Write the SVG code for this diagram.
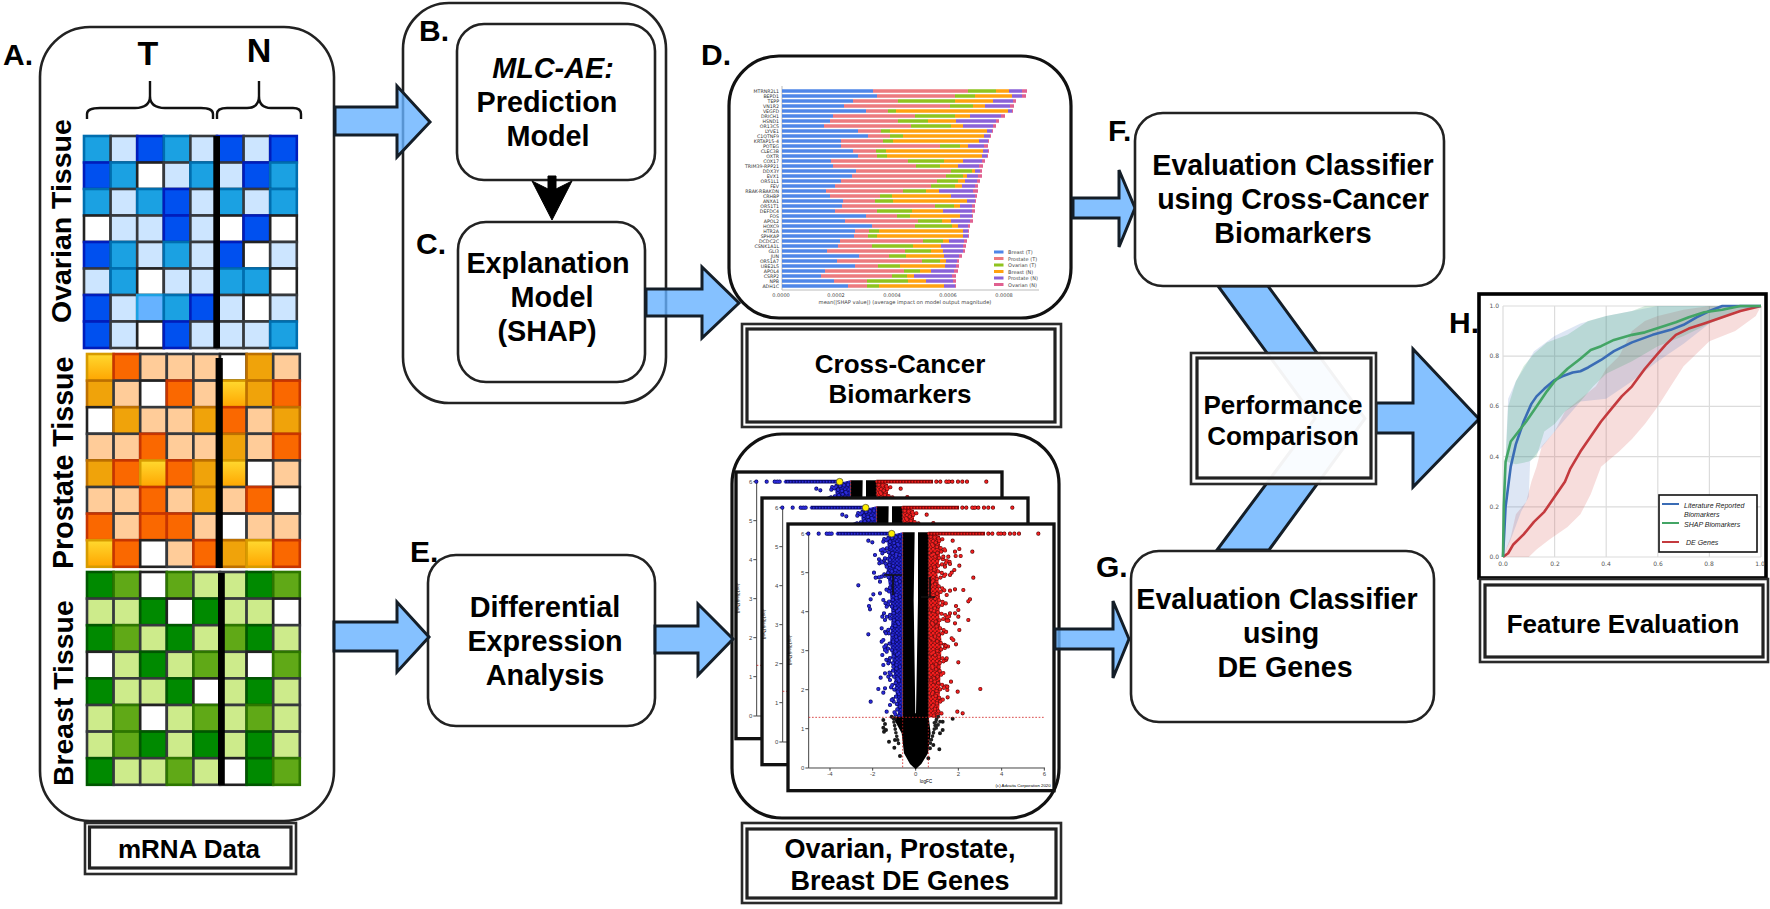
<svg xmlns="http://www.w3.org/2000/svg" xmlns:xlink="http://www.w3.org/1999/xlink" width="1770" height="909" viewBox="0 0 1770 909">
<style>
text{font-family:"Liberation Sans",Arial,sans-serif;fill:#000}
.t{font-weight:700;font-size:28.8px;text-anchor:middle}
.s{font-weight:700;font-size:26px;text-anchor:middle}
.e{font-weight:700;font-size:28.6px;text-anchor:middle}
.l{font-weight:700;font-size:30px}
.box{fill:#fff;stroke:#222;stroke-width:2.6}
.big{fill:#fff;stroke:#111;stroke-width:3.2}
.o{fill:#fff;stroke:#2a2a2a;stroke-width:2.6}
.i{fill:none;stroke:#222;stroke-width:3.2}
.arrow{fill:#66b2ff;fill-opacity:.8;stroke:#141e28;stroke-width:3;stroke-linejoin:miter}
.heat rect{stroke-width:2.6}
.ov rect{width:26.6px;height:26.5px}
.pr rect,.br rect{width:26.6px;height:26.6px}
.D{fill:#0050ef;stroke:#001dbc}.M{fill:#1ba1e2;stroke:#006eaf}.L{fill:#cce5ff;stroke:#36393d}.S{fill:#66b2ff;stroke:#1ba1e2}
.W{fill:#fff;stroke:#222}
.Y{fill:url(#gold);stroke:#d79b00}.A{fill:#f0a30a;stroke:#bd7000}.O{fill:#fa6800;stroke:#c73500}.P{fill:#ffcc99;stroke:#36393d}
.G{fill:#008a00;stroke:#005700}.N{fill:#60a917;stroke:#2d7600}.C{fill:#cdeb8b;stroke:#36393d}
.bar{fill:none;stroke-width:3.6}
.gn{font-family:"DejaVu Sans",sans-serif;font-size:4.7px;text-anchor:end;fill:#333}
.tk{font-family:"DejaVu Sans",sans-serif;font-size:5px;fill:#444}
.vt{font-size:18px;fill:#444;text-anchor:middle}
.dot{fill:none;stroke-linecap:round}
.cv{fill:none;stroke-width:2.6;vector-effect:non-scaling-stroke;stroke-linejoin:round}
.gl{font-family:"DejaVu Sans",sans-serif;font-size:6px;fill:#555}
.lg{font-style:italic;font-size:7px;fill:#222}
</style>
<defs>
<linearGradient id="gold" x1="0" y1="0" x2="0" y2="1"><stop offset="0" stop-color="#ffd92f"/><stop offset="1" stop-color="#ffa500"/></linearGradient>
<pattern id="pb" width="11" height="11" patternUnits="userSpaceOnUse"><rect width="11" height="11" fill="#0a0a70"/><circle cx="3" cy="3" r="3.6" fill="#2a2ad8"/><circle cx="8.500" cy="8.500" r="3.6" fill="#1e20c8"/></pattern>
<pattern id="pr" width="12" height="12" patternUnits="userSpaceOnUse"><rect width="12" height="12" fill="#801010"/><circle cx="3" cy="3" r="4.3" fill="#f42020"/><circle cx="9" cy="9" r="4.3" fill="#ee1818"/></pattern>
<path id="ob" d="M445 122h0M457 127h0M490 125h0M465 165h0M477 178h0M478 190h0M462 218h0M467 233h0M477 232h0M485 230h0M415 256h0M460 283h0M452 298h0M447 318h0M450 328h0M480 280h0M490 300h0M487 350h0M492 340h0M445 403h0M485 385h0M490 420h0M485 425h0M487 465h0M495 450h0M490 495h0M505 490h0M482 533h0M475 567h0M490 578h0M495 565h0M452 605h0M500 635h0M510 615h0M515 600h0M495 520h0M505 530h0M520 500h0M510 540h0M500 455h0M498 400h0M495 360h0M500 320h0M480 245h0M487 160h0M500 200h0M510 180h0M495 175h0M265 101h0M296 101h0M320 101h0M328 101h0M335 101h0"/>
<path id="or" d="M698 122h0M718 147h0M705 155h0M707 168h0M722 168h0M757 155h0M670 170h0M685 170h0M690 192h0M703 210h0M718 197h0M675 200h0M695 218h0M690 225h0M760 233h0M705 268h0M730 270h0M690 272h0M680 285h0M750 298h0M745 304h0M708 318h0M715 330h0M705 340h0M690 340h0M715 350h0M745 360h0M705 370h0M680 362h0M685 362h0M718 390h0M695 415h0M700 420h0M708 433h0M677 437h0M680 475h0M715 487h0M693 545h0M682 560h0M682 570h0M713 575h0M781 567h0M683 592h0M712 635h0M728 640h0M805 101h0M817 101h0M835 101h0M843 101h0M853 101h0M870 101h0M883 101h0M897 101h0M955 101h0"/>
<path id="zb" d="M540 110L490 118L540 135L480 150L540 165L478 185L540 205L488 225L540 245L498 270L540 290L495 310L540 330L500 350L540 370L495 395L540 415L490 440L540 460L498 480L540 500L505 520L540 540L510 560L540 580L515 600L540 620L520 640L540 650"/>
<path id="zr" d="M632 110L668 118L632 135L680 150L632 165L690 185L632 205L680 225L632 245L675 270L632 290L678 310L632 330L690 350L632 370L680 395L632 415L685 440L632 460L680 480L632 500L672 520L632 540L680 560L632 580L670 600L632 620L665 640L632 650"/>
<g id="vol">
<rect x="204" y="72" width="798" height="800" fill="#fff" stroke="#111" stroke-width="10"/>
<path d="M266 101V804H975M256 101h10M256 218h10M256 335h10M256 452h10M256 569h10M256 686h10M256 804h10M330 804v8M458 804v8M587 804v8M715 804v8M845 804v8M973 804v8" fill="none" stroke="#444" stroke-width="3"/>
<text class="vt" x="248" y="107">6</text><text class="vt" x="248" y="224">5</text><text class="vt" x="248" y="341">4</text><text class="vt" x="248" y="458">3</text><text class="vt" x="248" y="575">2</text><text class="vt" x="248" y="692">1</text><text class="vt" x="248" y="810">0</text>
<text class="vt" x="330" y="829">-4</text><text class="vt" x="458" y="829">-2</text><text class="vt" x="587" y="829">0</text><text class="vt" x="715" y="829">2</text><text class="vt" x="845" y="829">4</text><text class="vt" x="973" y="829">6</text>
<text x="618" y="850" font-size="14" text-anchor="middle" fill="#333">logFC</text>
<text transform="translate(208,450) rotate(90)" font-size="13" text-anchor="middle" fill="#333">-log10(adj.Pval)</text>
<text x="992" y="862" font-size="13" text-anchor="end" fill="#222">(c) Advaita Corporation 2020</text>
<path d="M548 97L500 108L505 160L500 210L510 280L515 350L510 430L520 500L525 560L532 620L535 652L548 652Z" fill="url(#pb)"/>
<path d="M625 97L660 108L660 170L652 220L660 280L658 350L665 430L662 500L660 570L658 620L655 652L625 652Z" fill="url(#pr)"/>
<use href="#zb" class="dot" stroke="#0a0a60" stroke-width="12.500" stroke-dasharray="0 12"/>
<use href="#zb" class="dot" stroke="#2a2ad8" stroke-width="8.500" stroke-dasharray="0 12"/>
<use href="#zr" class="dot" stroke="#701010" stroke-width="12.500" stroke-dasharray="0 12"/>
<use href="#zr" class="dot" stroke="#f42020" stroke-width="8.500" stroke-dasharray="0 12"/>
<path d="M548 97H584L581 300L586 640H588L594 300L594 97H626V650L632 700L624 760L604 792L587 808L570 792L552 760L545 700L518 650H548Z" fill="#000"/>
<path class="dot" d="M520 655L528 700L538 740M650 655L640 700L628 740M660 665L645 690M655 650L642 670" stroke="#222" stroke-width="11" stroke-dasharray="0 11"/>
<use href="#ob" class="dot" stroke="#0a0a60" stroke-width="12.500"/>
<use href="#ob" class="dot" stroke="#2a2ad8" stroke-width="8.500"/>
<path d="M350 101H510" stroke="#0a0a70" stroke-width="11" fill="none"/>
<path class="dot" d="M350 101H510" stroke="#2a2ad8" stroke-width="6" stroke-dasharray="0 9"/>
<use href="#or" class="dot" stroke="#5a0808" stroke-width="12.500"/>
<use href="#or" class="dot" stroke="#f42020" stroke-width="8.500"/>
<path d="M625 101H795" stroke="#7a0808" stroke-width="11" fill="none"/>
<path class="dot" d="M625 101H795" stroke="#f01818" stroke-width="6" stroke-dasharray="0 9"/>
<path class="dot" d="M490 660h0M495 672h0M490 683h0M492 695h0M498 690h0M507 725h0M525 720h0M523 743h0M540 768h0M658 748h0M668 665h0M668 690h0M660 700h0M640 735h0M630 745h0M625 775h0M698 656h0M515 650h0M525 655h0" stroke="#1a1a1a" stroke-width="12"/>
<path d="M266 652H975M548 97V804M625 97V804" fill="none" stroke="#d02020" stroke-width="2.4" stroke-dasharray="5 5"/>
<circle cx="515" cy="101" r="10" fill="#ffee00" stroke="#333" stroke-width="2"/>
</g>
</defs>
<rect width="1770" height="909" fill="#fff"/>

<g id="nodeA">
<rect class="box" x="40" y="27" width="294" height="794" rx="50" ry="50"/>
<text class="l" x="3" y="65">A.</text>
<text x="148" y="65" font-weight="700" font-size="34" text-anchor="middle">T</text>
<text x="259" y="62" font-weight="700" font-size="34" text-anchor="middle">N</text>
<path d="M87 119V114Q87 108 100 108H135Q150 108 150 96V81M150 96Q150 108 165 108H201Q213 108 213 114V119M217 119V114Q217 108 227 108H247Q259 108 259 96V81M259 96Q259 108 271 108H293Q301 108 301 114V119" fill="none" stroke="#111" stroke-width="2.4"/>
<text transform="translate(71,323) rotate(-90)" font-weight="700" font-size="28.5">Ovarian Tissue</text>
<text transform="translate(73,569) rotate(-90)" font-weight="700" font-size="28.6">Prostate Tissue</text>
<text transform="translate(73,786) rotate(-90)" font-weight="700" font-size="28.4">Breast Tissue</text>
<g class="heat ov">
<rect class="M" x="84" y="136"/><rect class="L" x="110.6" y="136"/><rect class="D" x="137.2" y="136"/><rect class="M" x="163.8" y="136"/><rect class="L" x="190.4" y="136"/><rect class="D" x="217" y="136"/><rect class="L" x="243.6" y="136"/><rect class="D" x="270.2" y="136"/>
<rect class="D" x="84" y="162.5"/><rect class="M" x="110.6" y="162.5"/><rect class="W" x="137.2" y="162.5"/><rect class="L" x="163.8" y="162.5"/><rect class="M" x="190.4" y="162.5"/><rect class="L" x="217" y="162.5"/><rect class="D" x="243.6" y="162.5"/><rect class="M" x="270.2" y="162.5"/>
<rect class="M" x="84" y="189"/><rect class="L" x="110.6" y="189"/><rect class="M" x="137.2" y="189"/><rect class="D" x="163.8" y="189"/><rect class="L" x="190.4" y="189"/><rect class="M" x="217" y="189"/><rect class="L" x="243.6" y="189"/><rect class="M" x="270.2" y="189"/>
<rect class="W" x="84" y="215.5"/><rect class="L" x="110.6" y="215.5"/><rect class="L" x="137.2" y="215.5"/><rect class="D" x="163.8" y="215.5"/><rect class="L" x="190.4" y="215.5"/><rect class="W" x="217" y="215.5"/><rect class="D" x="243.6" y="215.5"/><rect class="W" x="270.2" y="215.5"/>
<rect class="D" x="84" y="242"/><rect class="M" x="110.6" y="242"/><rect class="L" x="137.2" y="242"/><rect class="M" x="163.8" y="242"/><rect class="L" x="190.4" y="242"/><rect class="D" x="217" y="242"/><rect class="W" x="243.6" y="242"/><rect class="L" x="270.2" y="242"/>
<rect class="L" x="84" y="268.5"/><rect class="M" x="110.6" y="268.5"/><rect class="W" x="137.2" y="268.5"/><rect class="L" x="163.8" y="268.5"/><rect class="L" x="190.4" y="268.5"/><rect class="M" x="217" y="268.5"/><rect class="M" x="243.6" y="268.5"/><rect class="W" x="270.2" y="268.5"/>
<rect class="D" x="84" y="295"/><rect class="L" x="110.6" y="295"/><rect class="S" x="137.2" y="295"/><rect class="M" x="163.8" y="295"/><rect class="D" x="190.4" y="295"/><rect class="L" x="217" y="295"/><rect class="W" x="243.6" y="295"/><rect class="L" x="270.2" y="295"/>
<rect class="D" x="84" y="321.5"/><rect class="L" x="110.6" y="321.5"/><rect class="W" x="137.2" y="321.5"/><rect class="D" x="163.8" y="321.5"/><rect class="L" x="190.4" y="321.5"/><rect class="L" x="217" y="321.5"/><rect class="L" x="243.6" y="321.5"/><rect class="M" x="270.2" y="321.5"/>
</g>
<rect x="213.3" y="136" width="6.7" height="212" fill="#000"/>
<g class="heat pr">
<rect class="Y" x="87" y="354"/><rect class="O" x="113.6" y="354"/><rect class="P" x="140.2" y="354"/><rect class="P" x="166.8" y="354"/><rect class="P" x="193.4" y="354"/><rect class="W" x="220" y="354"/><rect class="A" x="246.6" y="354"/><rect class="P" x="273.2" y="354"/>
<rect class="A" x="87" y="380.6"/><rect class="P" x="113.6" y="380.6"/><rect class="W" x="140.2" y="380.6"/><rect class="O" x="166.8" y="380.6"/><rect class="P" x="193.4" y="380.6"/><rect class="Y" x="220" y="380.6"/><rect class="A" x="246.6" y="380.6"/><rect class="O" x="273.2" y="380.6"/>
<rect class="W" x="87" y="407.2"/><rect class="A" x="113.6" y="407.2"/><rect class="P" x="140.2" y="407.2"/><rect class="P" x="166.8" y="407.2"/><rect class="A" x="193.4" y="407.2"/><rect class="O" x="220" y="407.2"/><rect class="P" x="246.6" y="407.2"/><rect class="A" x="273.2" y="407.2"/>
<rect class="P" x="87" y="433.8"/><rect class="P" x="113.6" y="433.8"/><rect class="O" x="140.2" y="433.8"/><rect class="P" x="166.8" y="433.8"/><rect class="P" x="193.4" y="433.8"/><rect class="A" x="220" y="433.8"/><rect class="P" x="246.6" y="433.8"/><rect class="O" x="273.2" y="433.8"/>
<rect class="A" x="87" y="460.4"/><rect class="O" x="113.6" y="460.4"/><rect class="Y" x="140.2" y="460.4"/><rect class="O" x="166.8" y="460.4"/><rect class="A" x="193.4" y="460.4"/><rect class="Y" x="220" y="460.4"/><rect class="W" x="246.6" y="460.4"/><rect class="P" x="273.2" y="460.4"/>
<rect class="P" x="87" y="487"/><rect class="P" x="113.6" y="487"/><rect class="O" x="140.2" y="487"/><rect class="P" x="166.8" y="487"/><rect class="A" x="193.4" y="487"/><rect class="P" x="220" y="487"/><rect class="O" x="246.6" y="487"/><rect class="W" x="273.2" y="487"/>
<rect class="O" x="87" y="513.6"/><rect class="P" x="113.6" y="513.6"/><rect class="O" x="140.2" y="513.6"/><rect class="O" x="166.8" y="513.6"/><rect class="P" x="193.4" y="513.6"/><rect class="W" x="220" y="513.6"/><rect class="P" x="246.6" y="513.6"/><rect class="P" x="273.2" y="513.6"/>
<rect class="Y" x="87" y="540.2"/><rect class="O" x="113.6" y="540.2"/><rect class="W" x="140.2" y="540.2"/><rect class="P" x="166.8" y="540.2"/><rect class="O" x="193.4" y="540.2"/><rect class="A" x="220" y="540.2"/><rect class="Y" x="246.6" y="540.2"/><rect class="O" x="273.2" y="540.2"/>
</g>
<rect x="215.6" y="358" width="7.2" height="210" fill="#000"/>
<g class="heat br">
<rect class="G" x="87" y="572"/><rect class="N" x="113.6" y="572"/><rect class="W" x="140.2" y="572"/><rect class="N" x="166.8" y="572"/><rect class="C" x="193.4" y="572"/><rect class="C" x="220" y="572"/><rect class="G" x="246.6" y="572"/><rect class="N" x="273.2" y="572"/>
<rect class="C" x="87" y="598.6"/><rect class="C" x="113.6" y="598.6"/><rect class="G" x="140.2" y="598.6"/><rect class="W" x="166.8" y="598.6"/><rect class="G" x="193.4" y="598.6"/><rect class="C" x="220" y="598.6"/><rect class="C" x="246.6" y="598.6"/><rect class="W" x="273.2" y="598.6"/>
<rect class="G" x="87" y="625.2"/><rect class="N" x="113.6" y="625.2"/><rect class="C" x="140.2" y="625.2"/><rect class="G" x="166.8" y="625.2"/><rect class="C" x="193.4" y="625.2"/><rect class="N" x="220" y="625.2"/><rect class="G" x="246.6" y="625.2"/><rect class="C" x="273.2" y="625.2"/>
<rect class="W" x="87" y="651.8"/><rect class="C" x="113.6" y="651.8"/><rect class="G" x="140.2" y="651.8"/><rect class="C" x="166.8" y="651.8"/><rect class="N" x="193.4" y="651.8"/><rect class="C" x="220" y="651.8"/><rect class="W" x="246.6" y="651.8"/><rect class="N" x="273.2" y="651.8"/>
<rect class="G" x="87" y="678.4"/><rect class="C" x="113.6" y="678.4"/><rect class="C" x="140.2" y="678.4"/><rect class="G" x="166.8" y="678.4"/><rect class="W" x="193.4" y="678.4"/><rect class="C" x="220" y="678.4"/><rect class="G" x="246.6" y="678.4"/><rect class="C" x="273.2" y="678.4"/>
<rect class="C" x="87" y="705"/><rect class="N" x="113.6" y="705"/><rect class="W" x="140.2" y="705"/><rect class="C" x="166.8" y="705"/><rect class="N" x="193.4" y="705"/><rect class="C" x="220" y="705"/><rect class="N" x="246.6" y="705"/><rect class="C" x="273.2" y="705"/>
<rect class="C" x="87" y="731.6"/><rect class="N" x="113.6" y="731.6"/><rect class="G" x="140.2" y="731.6"/><rect class="C" x="166.8" y="731.6"/><rect class="G" x="193.4" y="731.6"/><rect class="C" x="220" y="731.6"/><rect class="G" x="246.6" y="731.6"/><rect class="C" x="273.2" y="731.6"/>
<rect class="G" x="87" y="758.2"/><rect class="C" x="113.6" y="758.2"/><rect class="C" x="140.2" y="758.2"/><rect class="N" x="166.8" y="758.2"/><rect class="C" x="193.4" y="758.2"/><rect class="W" x="220" y="758.2"/><rect class="G" x="246.6" y="758.2"/><rect class="N" x="273.2" y="758.2"/>
</g>
<rect x="218" y="573" width="6.8" height="212" fill="#000"/>
</g>
<g id="mrnaLabel">
<rect class="o" x="85" y="823" width="211" height="51"/><rect class="i" x="89.5" y="827" width="201.5" height="41"/>
<text class="s" x="189" y="858">mRNA Data</text>
</g>

<g id="nodeB">
<rect class="box" x="403" y="3" width="263" height="400" rx="46" ry="46"/>
<text class="l" x="419" y="41">B.</text>
<rect class="box" x="457" y="24" width="198" height="156" rx="27"/>
<text class="t" x="553" y="78" font-style="italic">MLC-AE:</text>
<text class="t" x="547" y="112">Prediction</text>
<text class="t" x="548" y="146">Model</text>
</g>
<g id="nodeC">
<rect class="box" x="458" y="222" width="187" height="160" rx="28"/>
<text class="l" x="416" y="254">C.</text>
<text class="t" x="548" y="273">Explanation</text>
<text class="t" x="552" y="307">Model</text>
<text class="t" x="547" y="341">(SHAP)</text>
</g>

<g id="nodeD">
<rect class="big" x="729" y="56" width="342" height="262" rx="50"/>
<text class="l" x="701" y="65">D.</text>
<path d="M782 86V290H1039" fill="none" stroke="#bbb" stroke-width="1"/>
<path class="bar" stroke="#4f86e8" d="M782 91H873M782 96H877M782 101H853M782 106H844M782 111H866M782 116H833M782 121H830M782 126H824M782 131H858M782 136H868M782 141H841M782 146H841M782 151H853M782 156H858M782 161H831M782 166H833M782 171H856M782 176H852M782 181H841M782 186H835M782 191H826M782 196H830M782 201H843M782 206H842M782 211H835M782 216H866M782 221H845M782 226H872M782 231H855M782 236H854M782 241H840M782 246H838M782 251H827M782 256H859M782 261H837M782 266H855M782 271H825M782 276H821M782 281H834M782 286H848"/>
<path class="bar" stroke="#ec7a7f" d="M873 91H968M877 96H955M853 101H898M844 106H950M866 111H888M833 116H915M830 121H898M824 126H911M858 131H881M868 136H890M841 141H883M841 146H940M853 151H876M858 156H877M831 161H908M833 166H916M856 171H951M852 176H946M841 181H937M835 186H931M826 191H903M830 196H880M843 201H875M842 206H935M835 211H877M866 216H897M845 221H918M872 226H915M855 231H869M854 236H868M840 241H923M838 246H872M827 251H905M859 256H889M837 261H922M855 266H878M825 271H904M821 276H892M834 281H867M848 286H867"/>
<path class="bar" stroke="#8fc31f" d="M968 91H996M955 96H975M898 101H955M950 106H973M888 111H896M915 116H955M898 121H928M911 126H951M881 131H890M890 136H903M883 141H893M940 146H960M876 151H886M877 156H887M908 161H944M916 166H940M951 171H972M946 176H963M937 181H958M931 186H955M903 191H926M880 196H892M875 201H893M935 206H954M877 211H912M897 216H910M918 221H942M915 226H952M869 231H879M868 236H877M923 241H943M872 246H913M905 251H931M889 256H906M922 261H940M878 266H900M904 271H920M892 276H907M867 281H908M867 286H879"/>
<path class="bar" stroke="#ffa210" d="M996 91H1009M975 96H1012M955 101H993M973 106H985M896 111H1008M955 116H970M928 121H956M951 126H963M890 131H987M903 136H984M893 141H979M960 146H968M886 151H983M887 156H982M944 161H963M940 166H958M972 171H975M963 176H967M958 181H965M955 186H962M926 191H939M892 196H951M893 201H967M954 206H960M912 211H943M910 216H960M942 221H951M952 226H958M879 231H963M877 236H963M943 241H949M913 246H941M931 251H943M906 256H944M940 261H946M900 266H945M920 271H931M907 276H914M908 281H926M879 286H944"/>
<path class="bar" stroke="#8a62d8" d="M1009 91H1022M1012 96H1022M993 101H1013M985 106H1010M1008 111H1012M970 116H1001M956 121H996M963 126H993M987 131H992M984 136H990M979 141H988M968 146H984M983 151H988M982 156H987M963 161H982M958 166H979M975 171H980M967 176H978M965 181H977M962 186H975M939 191H973M951 196H975M967 201H975M960 206H972M943 211H972M960 216H972M951 221H970M958 226H968M963 231H968M963 236H968M949 241H964M941 246H963M943 251H963M944 256H959M946 261H957M945 266H956M931 271H954M914 276H952M926 281H953M944 286H955"/>
<path class="bar" stroke="#e06090" d="M1022 91H1027M1022 96H1026M1013 101H1016M1010 106H1014M1012 111H1013M1001 116H1005M996 121H999M993 126H996M992 131H993M990 136H991M988 141H989M984 146H988M988 151H989M987 156H988M982 161H985M979 166H983M980 171H982M978 176H982M977 181H980M975 186H978M973 191H978M975 196H977M975 201H976M972 206H975M972 211H975M972 216H973M970 221H973M968 226H970M968 231H969M968 236H969M964 241H967M963 246H966M963 251H965M959 256H962M957 261H959M956 266H959M954 271H958M952 276H956M953 281H956M955 286H956"/>
<g>
<text class="gn" x="779" y="93">MTRNR2L1</text><text class="gn" x="779" y="98">BEPD1</text><text class="gn" x="779" y="103">TEPP</text><text class="gn" x="779" y="108">VN1R2</text><text class="gn" x="779" y="113">VEGFD</text><text class="gn" x="779" y="118">DRICH1</text><text class="gn" x="779" y="123">HSND1</text><text class="gn" x="779" y="128">OR13C5</text><text class="gn" x="779" y="133">LYVE1</text><text class="gn" x="779" y="138">C1QTNF9</text><text class="gn" x="779" y="143">KRTAP15-4</text><text class="gn" x="779" y="148">POTEG</text><text class="gn" x="779" y="153">CLEC3B</text><text class="gn" x="779" y="158">OXTR</text><text class="gn" x="779" y="163">COX17</text><text class="gn" x="779" y="168">TRIM39-RPP21</text><text class="gn" x="779" y="173">DDX3Y</text><text class="gn" x="779" y="178">EVX1</text><text class="gn" x="779" y="183">OR51L1</text><text class="gn" x="779" y="188">FEV</text><text class="gn" x="779" y="193">RBAK-RBAKDN</text><text class="gn" x="779" y="198">CRHBP</text><text class="gn" x="779" y="203">ANXA1</text><text class="gn" x="779" y="208">OR51T1</text><text class="gn" x="779" y="213">DEFDC4</text><text class="gn" x="779" y="218">FOS</text><text class="gn" x="779" y="223">APOL2</text><text class="gn" x="779" y="228">HOXC9</text><text class="gn" x="779" y="233">HTR2A</text><text class="gn" x="779" y="238">SPHKAP</text><text class="gn" x="779" y="243">DCDC2C</text><text class="gn" x="779" y="248">CSNK1A1L</text><text class="gn" x="779" y="253">GLI3</text><text class="gn" x="779" y="258">JUN</text><text class="gn" x="779" y="263">OR51A7</text><text class="gn" x="779" y="268">UBE2L5</text><text class="gn" x="779" y="273">APOL4</text><text class="gn" x="779" y="278">CSRP2</text><text class="gn" x="779" y="283">NPB</text><text class="gn" x="779" y="288">ADH1C</text>
</g>
<rect x="994" y="250.5" width="9.5" height="3" fill="#4f86e8"/><rect x="994" y="257" width="9.5" height="3" fill="#ec7a7f"/><rect x="994" y="263.5" width="9.5" height="3" fill="#8fc31f"/><rect x="994" y="270" width="9.5" height="3" fill="#ffa210"/><rect x="994" y="276.5" width="9.5" height="3" fill="#8a62d8"/><rect x="994" y="283" width="9.5" height="3" fill="#e06090"/>
<text class="tk" x="1008" y="254">Breast (T)</text><text class="tk" x="1008" y="260.5">Prostate (T)</text><text class="tk" x="1008" y="267">Ovarian (T)</text><text class="tk" x="1008" y="273.5">Breast (N)</text><text class="tk" x="1008" y="280">Prostate (N)</text><text class="tk" x="1008" y="286.5">Ovarian (N)</text>
<text class="tk" x="781" y="297" text-anchor="middle">0.0000</text><text class="tk" x="836" y="297" text-anchor="middle">0.0002</text><text class="tk" x="892" y="297" text-anchor="middle">0.0004</text><text class="tk" x="948" y="297" text-anchor="middle">0.0006</text><text class="tk" x="1004" y="297" text-anchor="middle">0.0008</text>
<text class="tk" x="905" y="303.5" text-anchor="middle" style="font-size:5.2px">mean(|SHAP value|) (average impact on model output magnitude)</text>
</g>
<g id="crossCancerLabel">
<rect class="o" x="742" y="324" width="319" height="103"/><rect class="i" x="747" y="329" width="308" height="93"/>
<text class="s" x="900" y="373">Cross-Cancer</text><text class="s" x="900" y="403">Biomarkers</text>
</g>

<g id="nodeE">
<rect class="box" x="428" y="555" width="227" height="171" rx="28"/>
<text class="l" x="410" y="562">E.</text>
<text class="t" x="545" y="617">Differential</text><text class="t" x="545" y="651">Expression</text><text class="t" x="545" y="685">Analysis</text>
</g>

<g id="nodeVolcano">
<rect class="big" x="732" y="434" width="327" height="384" rx="50"/>
<use href="#vol" transform="translate(668,448) scale(.33333)"/>
<use href="#vol" transform="translate(694,474) scale(.33333)"/>
<use href="#vol" transform="translate(720,500) scale(.33333)"/>
<path d="M884 575H902M893 575V595M930 577V597M935 597H921" fill="none" stroke="#111" stroke-width="1.6"/>
</g>
<g id="deGenesLabel">
<rect class="o" x="742" y="823" width="319" height="80"/><rect class="i" x="747" y="829" width="309" height="69"/>
<text class="s" x="900" y="858" style="font-size:27px">Ovarian, Prostate,</text><text class="s" x="900" y="890" style="font-size:27px">Breast DE Genes</text>
</g>

<g id="connectors">
<path class="arrow" d="M335 107H397V86L430 122L397 157V135H335Z"/>
<path class="arrow" d="M334 622H397V602L429 637L397 672V651H334Z"/>
<path class="arrow" d="M646 289H702V267L739 303L702 338V316H646Z"/>
<path class="arrow" d="M655 626H698V604L733 639L698 675V653H655Z"/>
<path class="arrow" d="M1073 198H1119V170L1135 208L1119 247V218H1073Z"/>
<path class="arrow" d="M1055 629H1113V601L1129 639L1113 678V649H1055Z"/>
<path class="arrow" d="M1218 286H1268L1365 418.500L1269 550H1217L1315 418.500Z"/>
<path class="arrow" d="M1376 403H1413V349L1479 419L1413 487V433H1376Z"/>
<path d="M548 176H556V189L572 181L552 220L532 181L548 189Z" fill="#000" stroke="#000" stroke-width="1"/>
</g>

<g id="nodeF">
<rect class="box" x="1135" y="113" width="309" height="173" rx="28"/>
<text class="l" x="1108" y="141">F.</text>
<text class="e" x="1293" y="175">Evaluation Classifier</text><text class="e" x="1293" y="209">using Cross-Cancer</text><text class="e" x="1293" y="243">Biomarkers</text>
</g>
<g id="nodeG">
<rect class="box" x="1131" y="551" width="303" height="171" rx="28"/>
<text class="l" x="1096" y="577">G.</text>
<text class="e" x="1277" y="609">Evaluation Classifier</text><text class="e" x="1281" y="643">using</text><text class="e" x="1285" y="677">DE Genes</text>
</g>
<g id="nodePerformance">
<rect x="1191" y="353" width="185" height="131" fill="#fff" fill-opacity=".95" stroke="#2a2a2a" stroke-width="2.6"/><rect class="i" x="1197" y="358" width="174" height="120"/>
<text class="s" x="1283" y="414">Performance</text><text class="s" x="1283" y="445">Comparison</text>
</g>

<g id="nodeH">
<rect x="1479" y="294" width="287" height="284" fill="#fff" stroke="#000" stroke-width="3.6"/>
<path d="M1503 306V557M1554.600 306V557M1606.200 306V557M1657.800 306V557M1709.400 306V557M1761 306V557M1503 306H1761M1503 356.200H1761M1503 406.400H1761M1503 456.600H1761M1503 506.800H1761M1503 557H1761" fill="none" stroke="#dcdcdc" stroke-width="1.2"/>
<g transform="translate(1503,557) scale(258,-251)">
<path fill="#d9534f" fill-opacity=".2" d="M0 0L.03 .08L.05 .17L.09 .22L.11 .3L.13 .36L.15 .44L.2 .5L.24 .58L.3 .63L.36 .68L.4 .75L.45 .8L.5 .9L.55 .94L.6 .96L.7 .985L.8 1L1 1L.98 .96L.9 .9L.8 .86L.7 .76L.65 .68L.6 .6L.55 .53L.5 .47L.45 .42L.38 .36L.34 .25L.3 .17L.25 .12L.18 .07L.13 .03L.1 0Z"/>
<path fill="#4472c4" fill-opacity=".18" d="M0 0L.01 .4L.02 .63L.05 .7L.08 .75L.12 .82L.2 .88L.3 .93L.4 .96L.5 .98L.6 1L1 1L.9 .98L.8 .93L.7 .85L.6 .78L.5 .7L.4 .63L.3 .62L.25 .56L.2 .5L.105 .38L.1 .24L.07 .18L.03 .07Z"/>
<path fill="#2ca25f" fill-opacity=".2" d="M.01 .38L.02 .6L.05 .7L.08 .76L.12 .81L.17 .855L.25 .885L.33 .94L.4 .96L.5 .98L.55 1L1 1L.9 .97L.8 .93L.7 .88L.6 .84L.5 .78L.4 .73L.35 .68L.3 .62L.24 .58L.2 .53L.16 .5L.13 .4L.1 .38L.05 .37Z"/>
<path class="cv" stroke="#c43a3e" d="M0 0L.02 .015L.04 .05L.08 .09L.12 .14L.16 .18L.2 .24L.24 .3L.26 .35L.3 .42L.34 .48L.38 .54L.42 .59L.46 .64L.5 .68L.55 .75L.6 .81L.63 .845L.67 .885L.72 .91L.78 .93L.85 .955L.92 .98L1 1"/>
<path class="cv" stroke="#3a6cb5" d="M0 0L.01 .2L.03 .36L.05 .45L.08 .54L.11 .61L.13 .64L.16 .67L.2 .705L.23 .72L.27 .735L.3 .74L.33 .755L.38 .785L.43 .82L.5 .855L.58 .885L.65 .905L.7 .925L.75 .955L.8 .98L.85 1L1 1"/>
<path class="cv" stroke="#43a565" d="M0 0L.003 .2L.01 .38L.03 .46L.06 .5L.09 .54L.13 .6L.17 .66L.2 .7L.25 .75L.3 .79L.34 .825L.38 .84L.43 .865L.5 .885L.55 .895L.61 .915L.67 .935L.72 .955L.78 .975L.85 .985L.92 1L1 1"/>
</g>
<text class="gl" x="1499" y="308" text-anchor="end">1.0</text><text class="gl" x="1499" y="358" text-anchor="end">0.8</text><text class="gl" x="1499" y="408" text-anchor="end">0.6</text><text class="gl" x="1499" y="459" text-anchor="end">0.4</text><text class="gl" x="1499" y="509" text-anchor="end">0.2</text><text class="gl" x="1499" y="559" text-anchor="end">0.0</text>
<text class="gl" x="1503" y="566" text-anchor="middle">0.0</text><text class="gl" x="1555" y="566" text-anchor="middle">0.2</text><text class="gl" x="1606" y="566" text-anchor="middle">0.4</text><text class="gl" x="1658" y="566" text-anchor="middle">0.6</text><text class="gl" x="1709" y="566" text-anchor="middle">0.8</text><text class="gl" x="1760" y="566" text-anchor="middle">1.0</text>
<rect x="1659" y="495" width="98" height="57" fill="#fff" stroke="#111" stroke-width="1.6"/>
<path d="M1662 504H1679" stroke="#3a6cb5" stroke-width="2"/><path d="M1662 523H1679" stroke="#43a565" stroke-width="2"/><path d="M1662 542H1679" stroke="#c43a3e" stroke-width="2"/>
<text class="lg" x="1684" y="508">Literature Reported</text><text class="lg" x="1684" y="517">Biomarkers</text><text class="lg" x="1684" y="527">SHAP Biomarkers</text><text class="lg" x="1686" y="545">DE Genes</text>
<text class="l" x="1449" y="333">H.</text>
</g>
<g id="featureLabel">
<rect class="o" x="1480" y="579" width="288" height="83"/><rect class="i" x="1485" y="585" width="278" height="72"/>
<text class="s" x="1623" y="633">Feature Evaluation</text>
</g>
</svg>
